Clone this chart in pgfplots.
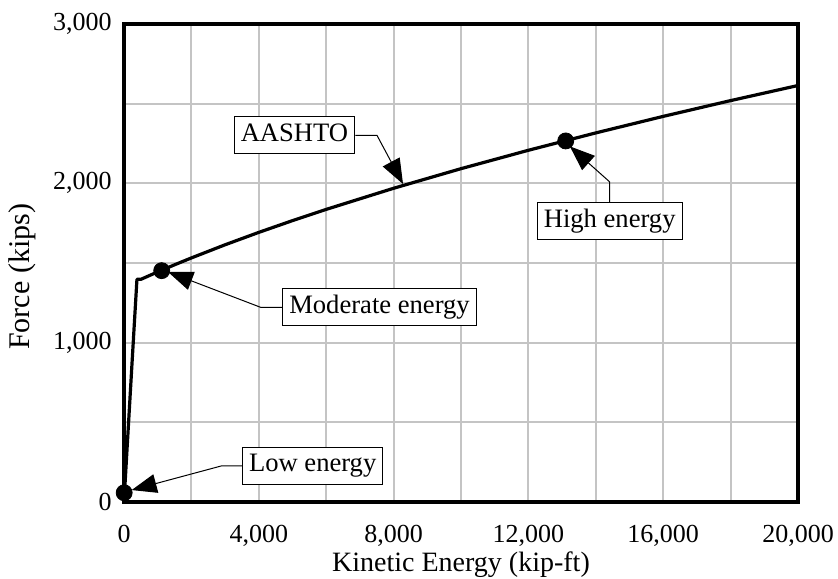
\documentclass[border=0pt]{standalone}
\usepackage{pgfplots}
\pgfplotsset{compat=1.18}
\usepackage{fontspec}
\setmainfont{Liberation Serif}
\usetikzlibrary{arrows.meta}
\definecolor{gridgray}{RGB}{196,196,196}
\begin{document}
\begin{tikzpicture}
\path[use as bounding box] (0,0) rectangle (419pt,289pt);
\begin{axis}[
  at={(62pt,38pt)}, anchor=south west,
  scale only axis, width=337pt, height=239pt,
  xmin=0, xmax=20000, ymin=0, ymax=3000,
  xtick={0,4000,8000,12000,16000,20000},
  minor xtick={2000,6000,10000,14000,18000},
  ytick={0,1000,2000,3000},
  minor ytick={500,1500,2500},
  grid=both,
  major grid style={gridgray, line width=1pt},
  minor grid style={gridgray, line width=1pt},
  major tick length=0pt, minor tick length=0pt,
  axis line style={line width=2pt},
  scaled ticks=false,
  /pgf/number format/assume math mode=true,
  /pgf/number format/1000 sep={,},
  tick label style={font=\fontsize{13}{15}\selectfont},
  xticklabel style={anchor=north, inner sep=0pt, yshift=-11.5pt},
  yticklabel style={anchor=east, inner sep=0pt, xshift=-6pt},
  xlabel={Kinetic Energy (kip-ft)},
  ylabel={Force (kips)},
  xlabel style={font=\fontsize{14}{16}\selectfont, at={(axis description cs:0.5,-0.1458)}, anchor=base},
  ylabel style={font=\fontsize{15}{17}\selectfont, at={(axis description cs:-0.1513,0.471)}, anchor=center},
  clip=false,
]
\addplot[black, line width=1.6pt, line join=round] coordinates {
  (0,0) (50,184.5) (100,368.1) (200,733.0) (300,1094.9) (384,1398.0)
  (500,1397.4) (750,1420.9) (1000,1443.9) (1500,1488.7) (2000,1531.9)
  (3000,1614.4) (4000,1692.2) (5000,1766.0) (6000,1836.5) (8000,1969.0)
  (10000,2092.0) (12000,2207.5) (14000,2316.5) (16000,2420.2)
  (18000,2519.2) (20000,2614.0)
};
\addplot[only marks, mark=*, mark size=4pt, black] coordinates {
  (5,58) (1119,1452) (13107,2266)
};
\tikzset{lbl/.style={draw=black, line width=0.5pt, fill=white, font=\fontsize{13.3}{15}\selectfont,
  inner xsep=3.3pt, inner ysep=0pt, minimum height=18.5pt, text height=9pt, text depth=3pt},
  ldr/.style={line width=0.5pt, -{Triangle[length=12.5pt,width=9.5pt]}}}
\node[lbl] (aas) at (axis cs:5059,2301) {AASHTO};
\node[lbl] (high) at (axis cs:14412,1761) {High energy};
\node[lbl] (mod) at (axis cs:7582,1221) {Moderate energy};
\node[lbl] (low) at (axis cs:5599,227) {Low energy};
\draw[ldr] (aas.east) -- (axis cs:7507,2301) -- (axis cs:8279,1996);
\draw[ldr] (high.north) -- (axis cs:14412,2009) -- (axis cs:13230,2232);
\draw[ldr] (mod.west) -- (axis cs:4065,1221) -- (axis cs:1306,1444);
\draw[ldr] (low.west) -- (axis cs:2899,227) -- (axis cs:228,75);
\end{axis}
\end{tikzpicture}
\end{document}
